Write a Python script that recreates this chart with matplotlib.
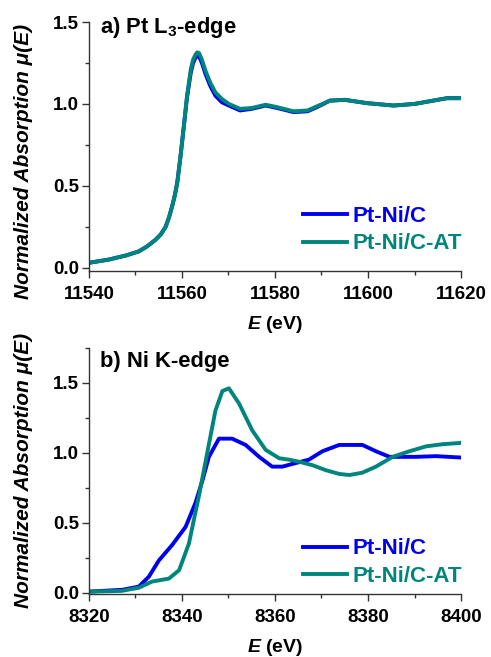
import matplotlib
matplotlib.use("Agg")
import matplotlib.pyplot as plt
from matplotlib.ticker import MultipleLocator

plt.rcParams['font.family'] = ['Liberation Sans', 'DejaVu Sans']
plt.rcParams['font.weight'] = 'bold'
plt.rcParams['mathtext.fontset'] = 'custom'
plt.rcParams['mathtext.it'] = 'Liberation Sans:italic:bold'
plt.rcParams['mathtext.rm'] = 'Liberation Sans:bold'

# ---- Panel a: Pt L3-edge ----
E_pt = [11540, 11544.3, 11548, 11550.75, 11552.5, 11554.3, 11555.5, 11556.5, 11557.2, 11557.9,
        11558.5, 11559, 11559.7, 11560.4, 11561.1, 11561.9, 11562.4, 11562.9, 11563.3,
        11563.7, 11564.3, 11565.1, 11566.1, 11567.2, 11568.6,
        11570.1, 11572.5, 11575, 11578, 11580.5, 11584, 11587, 11589, 11591.8,
        11595, 11599.7, 11605.5, 11610, 11614, 11617, 11620]
pt_nic_at = [0.03, 0.05, 0.075, 0.10, 0.13, 0.17, 0.205, 0.25, 0.305, 0.375,
             0.445, 0.52, 0.68, 0.86, 1.05, 1.21, 1.27, 1.30, 1.315,
             1.31, 1.27, 1.20, 1.13, 1.07, 1.03,
             1.00, 0.97, 0.975, 0.995, 0.98, 0.955, 0.96, 0.985, 1.02,
             1.025, 1.005, 0.99, 1.0, 1.02, 1.035, 1.035]
pt_nic = [0.03, 0.05, 0.075, 0.10, 0.13, 0.17, 0.205, 0.25, 0.305, 0.375,
          0.445, 0.52, 0.68, 0.86, 1.04, 1.19, 1.25, 1.28, 1.295,
          1.29, 1.25, 1.18, 1.11, 1.05, 1.01,
          0.99, 0.96, 0.97, 0.99, 0.975, 0.95, 0.955, 0.98, 1.02,
          1.025, 1.005, 0.99, 1.0, 1.02, 1.035, 1.035]

# ---- Panel b: Ni K-edge ----
E_ni_c = [8320, 8327.2, 8330.75, 8332.9, 8335.05, 8337.9, 8340.8, 8342.9, 8344.4,
          8345.8, 8347.96, 8350.8, 8353.7, 8356.6, 8359.4, 8361.6, 8363.8,
          8367.3, 8370.2, 8373.8, 8376.7, 8378.8, 8381.7, 8384.6, 8390.3, 8394.6, 8400]
ni_nic = [0.007, 0.02, 0.043, 0.114, 0.23, 0.34, 0.47, 0.64, 0.80,
          0.97, 1.10, 1.10, 1.055, 0.97, 0.90, 0.90, 0.92,
          0.95, 1.01, 1.055, 1.055, 1.055, 1.01, 0.97, 0.97, 0.975, 0.965]
E_ni_at = [8320, 8327, 8330.75, 8333.6, 8337.2, 8339.4, 8341.5, 8343.65, 8345.45,
           8347.2, 8348.7, 8350.1, 8352.3, 8355.1, 8358, 8360.9, 8363,
           8365.2, 8368.1, 8370.9, 8373.8, 8376, 8378.8, 8381.7, 8385.3, 8388.9,
           8392.5, 8396, 8400]
ni_nic_at = [0.007, 0.012, 0.035, 0.079, 0.10, 0.16, 0.35, 0.69, 1.0,
             1.30, 1.44, 1.46, 1.35, 1.16, 1.02, 0.96, 0.95,
             0.935, 0.91, 0.875, 0.848, 0.84, 0.857, 0.90, 0.97, 1.01,
             1.045, 1.06, 1.07]

labels = ['Pt-Ni/C', 'Pt-Ni/C-AT']
colors = ['#0000F0', '#00857D']

fig = plt.figure(figsize=(4.91, 6.57), dpi=100)
ax1 = fig.add_axes([0.181, 0.5875, 0.758, 0.379])
ax2 = fig.add_axes([0.181, 0.0959, 0.758, 0.3749])

def style(ax, xlim, ylim, title, title_y, leg_anchor, ylab_y):
    ax.set_xlim(*xlim)
    ax.set_ylim(*ylim)
    for s in ['top', 'right']:
        ax.spines[s].set_visible(False)
    for s in ['left', 'bottom']:
        ax.spines[s].set_linewidth(1.0)
        ax.spines[s].set_color('#333333')
    ax.xaxis.set_major_locator(MultipleLocator(20))
    ax.xaxis.set_minor_locator(MultipleLocator(10))
    ax.yaxis.set_major_locator(MultipleLocator(0.5))
    ax.yaxis.set_minor_locator(MultipleLocator(0.25))
    ax.yaxis.set_major_formatter(plt.FuncFormatter(lambda v, p: f'{v:.1f}'))
    ax.tick_params(which='major', direction='out', length=5, width=1,
                   labelsize=13.5, color='#333333', pad=2)
    ax.tick_params(axis='x', which='major', pad=6)
    ax.tick_params(which='minor', direction='out', length=3, width=1, color='#333333')
    ax.set_xlabel(r'$E$ (eV)', fontsize=14, fontweight='bold', labelpad=8)
    ax.set_ylabel('Normalized Absorption μ(E)', fontsize=15, fontweight='bold',
                  fontstyle='italic')
    ax.yaxis.set_label_coords(-0.15, ylab_y)
    ax.text(0.03, title_y, title, transform=ax.transAxes, fontsize=15.8,
            fontweight='bold', va='top', ha='left')
    leg = ax.legend(loc='upper left', bbox_to_anchor=leg_anchor, frameon=False,
                    prop={'weight': 'bold', 'size': 16}, handlelength=2.0,
                    handletextpad=0.25, labelspacing=0.3, borderaxespad=0,
                    borderpad=0)
    for t, c in zip(leg.get_texts(), colors):
        t.set_color(c)

ax1.plot(E_pt, pt_nic, color=colors[0], lw=2.8, label=labels[0])
ax1.plot(E_pt, pt_nic_at, color=colors[1], lw=2.8, label=labels[1])
style(ax1, (11540, 11620), (-0.02, 1.5), r'a) Pt L$_\mathregular{3}$-edge', 1.03,
      (0.575, 0.262), 0.44)

ax2.plot(E_ni_c, ni_nic, color=colors[0], lw=2.8, label=labels[0])
ax2.plot(E_ni_at, ni_nic_at, color=colors[1], lw=2.8, label=labels[1])
style(ax2, (8320, 8400), (-0.01, 1.75), 'b) Ni K-edge', 0.985, (0.575, 0.226), 0.5)

fig.savefig('out.png', dpi=100)
